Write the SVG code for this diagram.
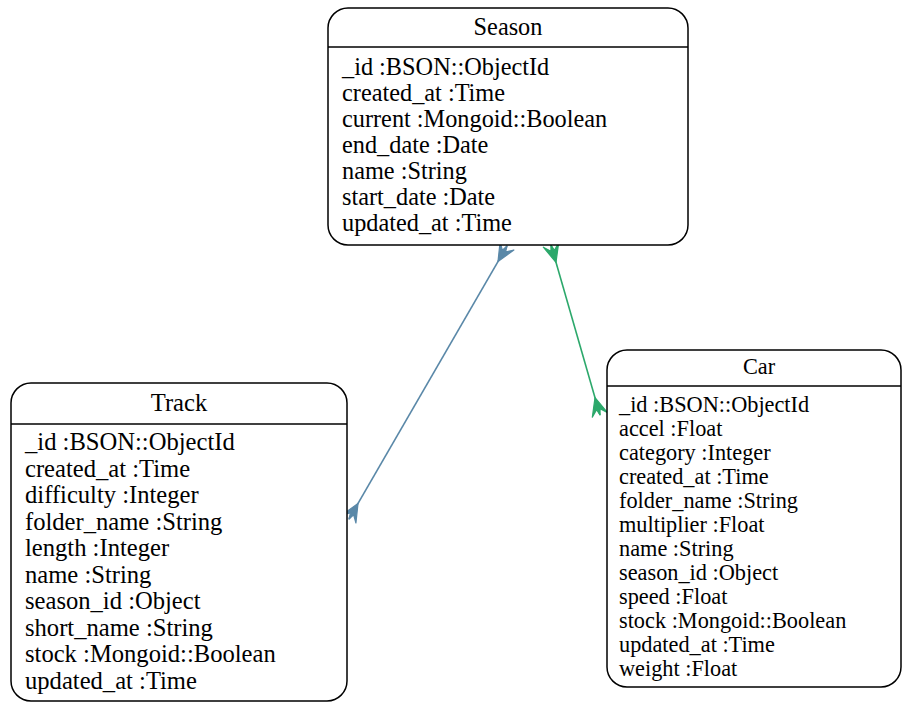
<svg xmlns="http://www.w3.org/2000/svg" width="902" height="702" viewBox="0 0 902 702">
<defs>
<style>
.box{fill:#ffffff;stroke:#000000;stroke-width:1.5}
.sep{stroke:#000000;stroke-width:1.5}
.t{font-family:"Liberation Serif","Times New Roman",serif;fill:#000000}
.s{font-size:24.3px}
.k{font-size:24.6px}
.small{font-size:22.3px}
.title{text-anchor:middle}
.edge{fill:none;stroke-width:1.6}
</style>
<marker id="crowBlue" viewBox="-22 -11 24 22" refX="0" refY="0" markerWidth="24" markerHeight="22" markerUnits="userSpaceOnUse" orient="auto-start-reverse">
<path d="M-18,0 L0,-8 L-6,-1.8 L0,0 L-6,1.8 L0,8 Z" fill="#5a88a8" stroke="#5a88a8" stroke-width="1.2" stroke-linejoin="round"/>
</marker>
<marker id="crowGreen" viewBox="-22 -11 24 22" refX="0" refY="0" markerWidth="24" markerHeight="22" markerUnits="userSpaceOnUse" orient="auto-start-reverse">
<path d="M-18,0 L0,-8 L-6,-1.8 L0,0 L-6,1.8 L0,8 Z" fill="#2ca86b" stroke="#2ca86b" stroke-width="1.2" stroke-linejoin="round"/>
</marker>
</defs>
<rect width="902" height="702" fill="#ffffff"/>

<g id="connectors">
<path class="edge" stroke="#5a88a8" d="M507,246 L349,519" marker-start="url(#crowBlue)" marker-end="url(#crowBlue)"/>
<path class="edge" stroke="#2ca86b" d="M551,245 L600,415" marker-start="url(#crowGreen)" marker-end="url(#crowGreen)"/>
</g>

<g id="Season">
<rect class="box" x="328" y="8" width="360" height="237" rx="20" ry="20"/>
<line class="sep" x1="328" y1="47" x2="688" y2="47"/>
<text class="t s title" x="508" y="35">Season</text>
<text class="t s" x="342" y="75">_id :BSON::ObjectId</text>
<text class="t s" x="342" y="101">created_at :Time</text>
<text class="t s" x="342" y="127">current :Mongoid::Boolean</text>
<text class="t s" x="342" y="153">end_date :Date</text>
<text class="t s" x="342" y="179">name :String</text>
<text class="t s" x="342" y="205">start_date :Date</text>
<text class="t s" x="342" y="231">updated_at :Time</text>
</g>

<g id="Track">
<rect class="box" x="11" y="383" width="336" height="318" rx="20" ry="20"/>
<line class="sep" x1="11" y1="424" x2="347" y2="424"/>
<text class="t k title" x="179" y="411">Track</text>
<text class="t k" x="25" y="450">_id :BSON::ObjectId</text>
<text class="t k" x="25" y="476.5">created_at :Time</text>
<text class="t k" x="25" y="503">difficulty :Integer</text>
<text class="t k" x="25" y="529.5">folder_name :String</text>
<text class="t k" x="25" y="556">length :Integer</text>
<text class="t k" x="25" y="582.5">name :String</text>
<text class="t k" x="25" y="609">season_id :Object</text>
<text class="t k" x="25" y="635.5">short_name :String</text>
<text class="t k" x="25" y="662">stock :Mongoid::Boolean</text>
<text class="t k" x="25" y="688.5">updated_at :Time</text>
</g>

<g id="Car">
<rect class="box" x="607" y="350" width="294" height="337" rx="20" ry="20"/>
<line class="sep" x1="607" y1="386" x2="901" y2="386"/>
<text class="t small title" x="759" y="374">Car</text>
<text class="t small" x="619" y="412">_id :BSON::ObjectId</text>
<text class="t small" x="619" y="436">accel :Float</text>
<text class="t small" x="619" y="460">category :Integer</text>
<text class="t small" x="619" y="484">created_at :Time</text>
<text class="t small" x="619" y="508">folder_name :String</text>
<text class="t small" x="619" y="532">multiplier :Float</text>
<text class="t small" x="619" y="556">name :String</text>
<text class="t small" x="619" y="580">season_id :Object</text>
<text class="t small" x="619" y="604">speed :Float</text>
<text class="t small" x="619" y="628">stock :Mongoid::Boolean</text>
<text class="t small" x="619" y="652">updated_at :Time</text>
<text class="t small" x="619" y="676">weight :Float</text>
</g>
</svg>
